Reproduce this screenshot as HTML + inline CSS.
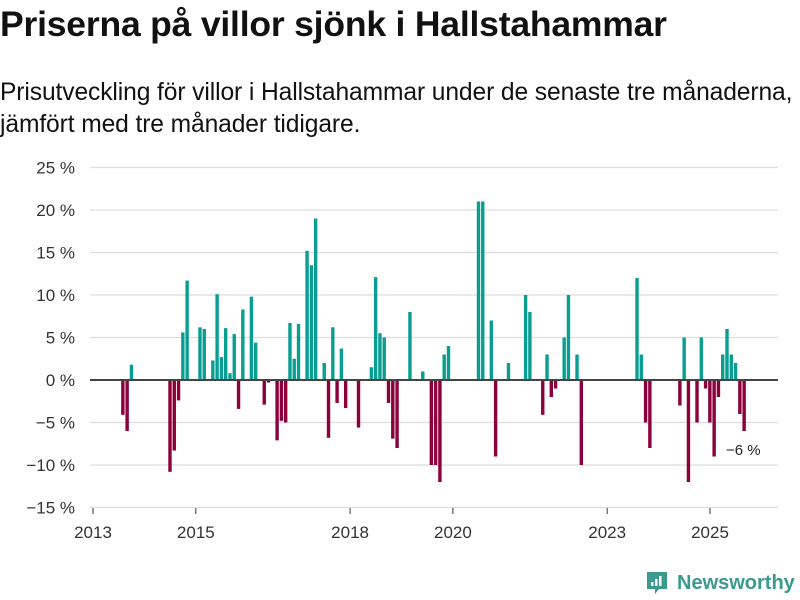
<!DOCTYPE html>
<html><head><meta charset="utf-8"><style>
body{margin:0;width:800px;height:600px;background:#fff;font-family:"Liberation Sans","DejaVu Sans",sans-serif;overflow:hidden;position:relative;color:#111}
#title{position:absolute;left:0;top:4px;font-size:35.5px;font-weight:bold;letter-spacing:-0.2px;margin:0;white-space:nowrap}
#sub{position:absolute;left:0;top:77px;font-size:24.6px;line-height:32px;width:820px;letter-spacing:-0.1px;white-space:nowrap}
svg{position:absolute;left:0;top:0}
</style></head><body>
<h1 id="title">Priserna på villor sjönk i Hallstahammar</h1>
<div id="sub">Prisutveckling för villor i Hallstahammar under de senaste tre månaderna,<br>jämfört med tre månader tidigare.</div>
<svg id="chart" width="800" height="600"></svg>
<div style="position:absolute;left:645px;top:570px;display:flex;align-items:center">
<svg width="24" height="26" style="position:static"><path d="M2 2h20v17h-8l-4 5v-5H2z" fill="#3a9a8e"/><rect x="6" y="12" width="2.5" height="4" fill="#fff"/><rect x="10" y="9" width="2.5" height="7" fill="#fff"/><rect x="14" y="6" width="2.5" height="10" fill="#fff"/></svg>
<span style="font-size:20px;font-weight:bold;color:#3a9a8e;margin-left:8px">Newsworthy</span></div>
<script>
const months=[6,7,8,17,18,19,20,21,24,25,27,28,29,30,31,32,33,34,36,37,39,40,42,43,44,45,46,47,49,50,51,53,54,55,56,57,58,61,64,65,66,67,68,69,70,73,76,78,79,80,81,82,89,90,92,93,96,100,101,104,105,106,107,109,110,112,113,126,127,128,129,136,137,138,140,141,142,143,144,145,146,147,148,149,150,151];
const values=[-4.1,-6,1.8,-10.8,-8.3,-2.4,5.6,11.7,6.2,6,2.3,10.1,2.7,6.1,0.8,5.4,-3.4,8.3,9.8,4.4,-2.9,-0.3,-7.1,-4.8,-5,6.7,2.5,6.6,15.2,13.5,19,2,-6.8,6.2,-2.7,3.7,-3.3,-5.6,1.5,12.1,5.5,5,-2.7,-6.9,-8,8,1,-10,-10,-12,3,4,21,21,7,-9,2,10,8,-4.1,3,-2,-1,5,10,3,-10,12,3,-5,-8,-3,5,-12,-5,5,-1,-5,-9,-2,3,6,3,2,-4,-6];
const yTicks=[-15,-10,-5,0,5,10,15,20,25];
const xTickYears=[2013,2015,2018,2020,2023,2025];
const svg=document.getElementById('chart');
const NS='http://www.w3.org/2000/svg';
function y(v){return 380-v*8.5;}
function xm(m){return 93+m*(617/144);}
function xy(yr){return xm((yr-2013)*12);}
function mk(t,a){const e=document.createElementNS(NS,t);for(const k in a)e.setAttribute(k,a[k]);svg.appendChild(e);return e;}
for(const t of yTicks){
 const g=mk('line',{x1:90,x2:778,y1:y(t),y2:y(t),stroke:'#ddd','stroke-width':1.2});
 
 
 const l=mk('text',{x:75,y:y(t)+6,'text-anchor':'end','font-size':17,fill:'#333'});
 l.textContent=(t<0?'−'+(-t):t)+' %';
 
 
}
for(const yr of xTickYears){
 const tk=mk('line',{x1:xy(yr),x2:xy(yr),y1:508,y2:514,stroke:'#333'});
 
 
 const l=mk('text',{x:xy(yr),y:538,'text-anchor':'middle','font-size':17,fill:'#333'});
 l.textContent=yr;
 
 
}
months.forEach((m,i)=>{
 const v=values[i];const cx=xm(m+0.5)+2;
 const r=mk('rect',{x:cx-1.7,width:3.4,y:Math.min(y(0),y(v)),height:Math.abs(y(v)-y(0)),fill:v>=0?'#0a9e93':'#8c003b'});
 
 
});
const z=mk('line',{x1:90,x2:778,y1:380,y2:380,stroke:'#444','stroke-width':2});


const last=values[values.length-1];
const lab=mk('text',{x:726,y:y(last)+24,'font-size':15,fill:'#222'});
lab.textContent='−'+(-last)+' %';


</script>
</body></html>
